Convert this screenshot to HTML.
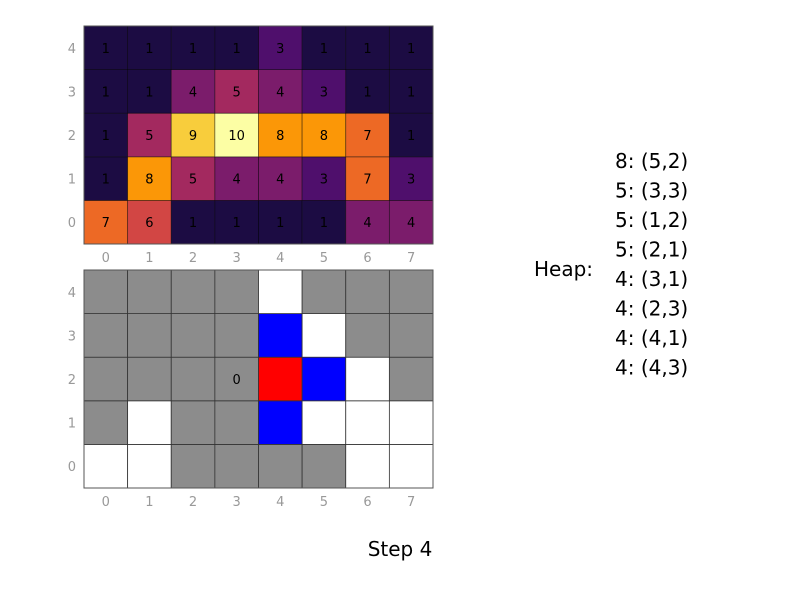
<!DOCTYPE html>
<html><head><meta charset="utf-8"><style>
body{margin:0;background:#fff;font-family:"Liberation Sans","DejaVu Sans",sans-serif}
svg text{font-family:"DejaVu Sans","Liberation Sans",sans-serif}
</style></head><body>
<svg id="c" width="800" height="600" xmlns="http://www.w3.org/2000/svg"></svg>
<script>
const heatValues=[
 [7,6,1,1,1,1,4,4],
 [1,8,5,4,4,3,7,3],
 [1,5,9,10,8,8,7,1],
 [1,1,4,5,4,3,1,1],
 [1,1,1,1,3,1,1,1]];
// state per cell: g=gray, w=white, b=blue, r=red (row 0 first)
const stateGrid=[
 "wwggggww",
 "gwggbwww",
 "ggggrbwg",
 "ggggbwgg",
 "ggggwggg"];
const labelCells=[[3,2,"0"]];
const heapEntries=["8: (5,2)","5: (3,3)","5: (1,2)","5: (2,1)","4: (3,1)","4: (2,3)","4: (4,1)","4: (4,3)"];
const xTicks=[0,1,2,3,4,5,6,7];
const yTicks=[0,1,2,3,4];
const stepLabel="Step 4";

const inferno={0:"#000004",1:"#1c0c43",2:"#3b0f6f",3:"#4f0f6c",4:"#7b1c6b",5:"#a3295f",6:"#d24644",7:"#ed6925",8:"#fb9707",9:"#f8cd3c",10:"#fcfea4"};
const stateColor={g:"#8c8c8c",w:"#ffffff",b:"#0000ff",r:"#ff0000"};
const svg=document.getElementById('c');
const NS="http://www.w3.org/2000/svg";
function mk(t,a,p){const e=document.createElementNS(NS,t);for(const k in a)e.setAttribute(k,a[k]);(p||svg).appendChild(e);return e;}
const X0=84,X1=433,CW=(X1-X0)/8,CH=(244-26)/5;
function xs(i){return X0+i*CW;}
function ys(top,r){return top+(4-r)*CH;}
function axes(top,name){
  const g=mk('g',{});
  
  
  xTicks.forEach(i=>{const t=mk('text',{x:xs(i)+CW/2,y:top+5*CH+18,'text-anchor':'middle','font-size':13,fill:'#999'},g);t.textContent=i;
    });
  yTicks.forEach(r=>{const t=mk('text',{x:X0-8,y:ys(top,r)+CH/2+5,'text-anchor':'end','font-size':13,fill:'#999'},g);t.textContent=r;
    });
}
// heatmap
const hg=mk('g',{});


heatValues.forEach((row,r)=>row.forEach((v,c)=>{
  const rc=mk('rect',{x:xs(c),y:ys(26,r),width:CW,height:CH,fill:inferno[v],stroke:'#000','stroke-opacity':0.5,'stroke-width':0.8},hg);
  
  const t=mk('text',{x:xs(c)+CW/2,y:ys(26,r)+CH/2+5,'text-anchor':'middle','font-size':13,fill:'#000'},hg);t.textContent=v;
  
}));
mk('rect',{x:X0,y:26,width:X1-X0,height:5*CH,fill:'none',stroke:'#555','stroke-width':1});
axes(26,'heatmap');
// state grid
const sg=mk('g',{});


const T2=270;
stateGrid.forEach((row,r)=>row.split('').forEach((s,c)=>{
  const rc=mk('rect',{x:xs(c),y:ys(T2,r),width:CW,height:CH,fill:stateColor[s],stroke:'#333','stroke-width':0.8},sg);
  
}));
labelCells.forEach(([c,r,s])=>{const t=mk('text',{x:xs(c)+CW/2,y:ys(T2,r)+CH/2+5,'text-anchor':'middle','font-size':13,fill:'#000'},sg);t.textContent=s;
  });
mk('rect',{x:X0,y:T2,width:X1-X0,height:5*CH,fill:'none',stroke:'#555','stroke-width':1});
axes(T2,'state-grid');
// heap
const ht=mk('text',{x:534,y:276,'font-size':20,fill:'#000'});ht.textContent="Heap:";

heapEntries.forEach((s,i)=>{const t=mk('text',{x:615,y:168+i*29.5,'font-size':20,fill:'#000'});t.textContent=s;
  });
const st=mk('text',{x:400,y:556,'text-anchor':'middle','font-size':20,fill:'#000'});st.textContent=stepLabel;

</script>
</body></html>
